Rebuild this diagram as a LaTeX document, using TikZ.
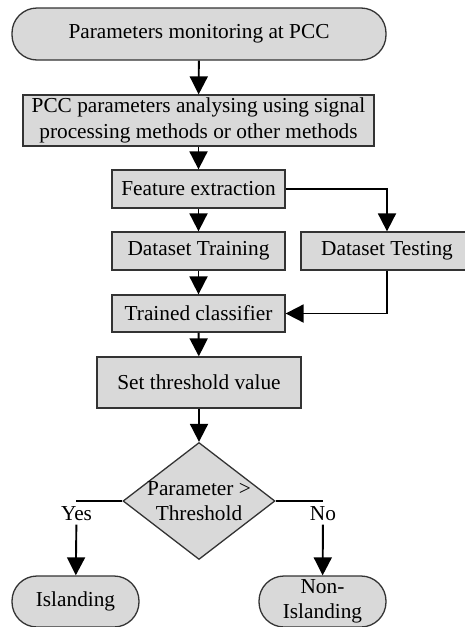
\documentclass[tikz,border=0pt]{standalone}
\usepackage{fontspec}
\setmainfont{Liberation Serif}
\usetikzlibrary{arrows.meta}
\usetikzlibrary{shapes}

\begin{document}
\begin{tikzpicture}[x = 1pt, y = -1pt, font = \fontsize{21.3}{25.5}\selectfont]
	\tikzstyle{termStyle} = [shape = rectangle, rounded corners = 25pt, draw = black!80, line width = 1.3pt, fill = gray!30, align = center, inner sep = 0pt]
	\tikzstyle{boxStyle} = [shape = rectangle, draw = black!80, line width = 1.3pt, fill = gray!30, align = center, inner sep = 0pt]
	\tikzstyle{decStyle} = [shape = diamond, draw = black!80, line width = 1.3pt, fill = gray!30, inner sep = 0pt, minimum width = 152pt, minimum height = 117pt]
	\tikzstyle{EdgeStyle} = [line width = 1.9pt, -{Triangle[length = 18pt, width = 18pt]}]
	\useasboundingbox (0, 0) rectangle (465, 627);
	\node[termStyle, minimum width = 374pt, minimum height = 52pt] (v0) at (199, 34) {Parameters monitoring at PCC};
	\node[boxStyle, minimum width = 351pt, minimum height = 51pt] (v1) at (198.5, 120.5) {PCC parameters analysing using signal\\processing methods or other methods};
	\node[boxStyle, minimum width = 173pt, minimum height = 38pt] (v2) at (198.5, 189) {Feature extraction};
	\node[boxStyle, minimum width = 173pt, minimum height = 38pt] (v3) at (198.5, 251) {Dataset Training};
	\node[boxStyle, minimum width = 172pt, minimum height = 38pt] (v4) at (387, 251) {Dataset Testing};
	\node[boxStyle, minimum width = 173pt, minimum height = 37pt] (v5) at (198.5, 313.5) {Trained classifier};
	\node[boxStyle, minimum width = 204pt, minimum height = 51pt] (v6) at (199, 382.5) {Set threshold value};
	\node[decStyle, label = {[align = center]center:Parameter >\\Threshold}] (v7) at (199, 501) {};
	\node[termStyle, minimum width = 127pt, minimum height = 51pt] (v8) at (75.5, 601.5) {Islanding};
	\node[termStyle, minimum width = 127pt, minimum height = 51pt] (v9) at (322.5, 601.5) {Non-\\Islanding};
	\node (yes) at (76.5, 514) {Yes};
	\node (no) at (323, 514) {No};
	\coordinate (c1) at (75.5, 501);
	\coordinate (c2) at (322.5, 501);
	\draw[EdgeStyle] (v0) -- (v1);
	\draw[EdgeStyle] (v1) -- (v2);
	\draw[EdgeStyle] (v2) -- (v3);
	\draw[EdgeStyle] (v2.east) -| (v4.north);
	\draw[EdgeStyle] (v3) -- (v5);
	\draw[EdgeStyle] (v4.south) |- (v5.east);
	\draw[EdgeStyle] (v5) -- (v6);
	\draw[EdgeStyle] (v6) -- (v7);
	\draw[line width = 1.9pt] (v7.west) -- (c1);
	\draw[line width = 1.9pt] (v7.east) -- (c2);
	\draw[EdgeStyle] (yes) -- (v8);
	\draw[EdgeStyle] (no) -- (v9);
\end{tikzpicture}
\end{document}
